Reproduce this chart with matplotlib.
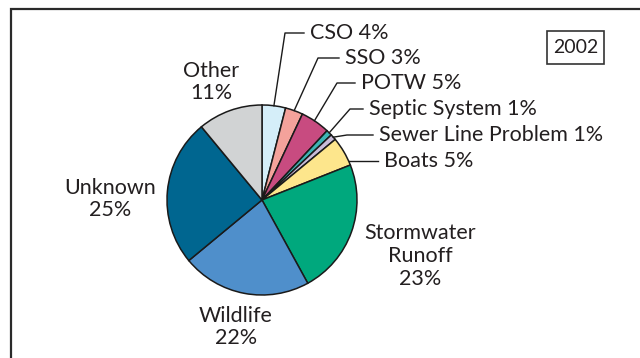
import numpy as np
import matplotlib.pyplot as plt
from matplotlib.patches import Rectangle

# shares in percent, clockwise from 12 o'clock
sources = ['CSO', 'SSO', 'POTW', 'Septic System', 'Sewer Line Problem', 'Boats',
           'Stormwater Runoff', 'Wildlife', 'Unknown', 'Other']
shares = [4, 3, 5, 1, 1, 5, 23, 22, 25, 11]
colors = ['#d5eef9', '#f4a29b', '#c84b80', '#3db5b5', '#c9bcd9', '#fde68c',
          '#00a87d', '#4f8fcb', '#006690', '#d1d3d4']
year = '2002'

W, H = 640, 358
txt = '#231f20'
fs = 15.5
plt.rcParams['font.family'] = ['Lato', 'DejaVu Sans']

fig = plt.figure(figsize=(W / 100, H / 100), dpi=100)
ax = fig.add_axes([0, 0, 1, 1])
ax.axis('off')

def Y(v):
    return H - v

cx, cy, r = 262, 200, 95
wedges, _ = ax.pie(shares, colors=colors, startangle=90, counterclock=False,
                   center=(cx, Y(cy)), radius=r, frame=False,
                   wedgeprops=dict(edgecolor='#1a1a1a', linewidth=1.1))
ax.set_xlim(0, W)
ax.set_ylim(0, H)
ax.set_aspect('equal')

# frame around the chart (runs off the right and bottom)
ax.add_patch(Rectangle((11, -10), W, Y(8.5) + 10, fill=False, edgecolor='#2a2a2a', lw=1.6))

# small slices: labels with leader lines
small = [0, 1, 2, 3, 4, 5]
anchor_ang = [82.8, 70.2, 56.5, 45.0, 41.4, 24.0]
elbow = [(285, 33), (318, 58), (337, 83), (350, 109), (347, 135), None]
text_pos = [(310, 33), (345, 58), (361, 83), (369, 109), (379, 135), (384, 161)]
for i, a, e, (tx, ty) in zip(small, anchor_ang, elbow, text_pos):
    px = cx + r * np.cos(np.radians(a))
    py = cy - r * np.sin(np.radians(a))
    if e is None:
        xs, ys = [px, tx - 6], [py, py]
    else:
        xs, ys = [px, e[0], tx - 6], [py, e[1], e[1]]
    ax.plot(xs, [Y(v) for v in ys], color='#1a1a1a', lw=1.0)
    ax.text(tx, Y(ty), f'{sources[i]} {shares[i]}%', fontsize=fs,
            color=txt, ha='left', va='center')

# big slices: plain labels
big = {9: (211, 82), 8: (110, 199), 6: (420, 256), 7: (236, 327)}
for i, (tx, ty) in big.items():
    name = sources[i].replace(' ', '\n')
    ax.text(tx, Y(ty), f'{name}\n{shares[i]}%', fontsize=fs, color=txt,
            ha='center', va='center', linespacing=1.17)

ax.add_patch(Rectangle((547, Y(64)), 57, 33, fill=False, edgecolor='#333333', lw=1.2))
ax.text(575.5, Y(47.5), year, fontsize=14, color=txt, ha='center', va='center')

fig.savefig('out.png', dpi=100)
